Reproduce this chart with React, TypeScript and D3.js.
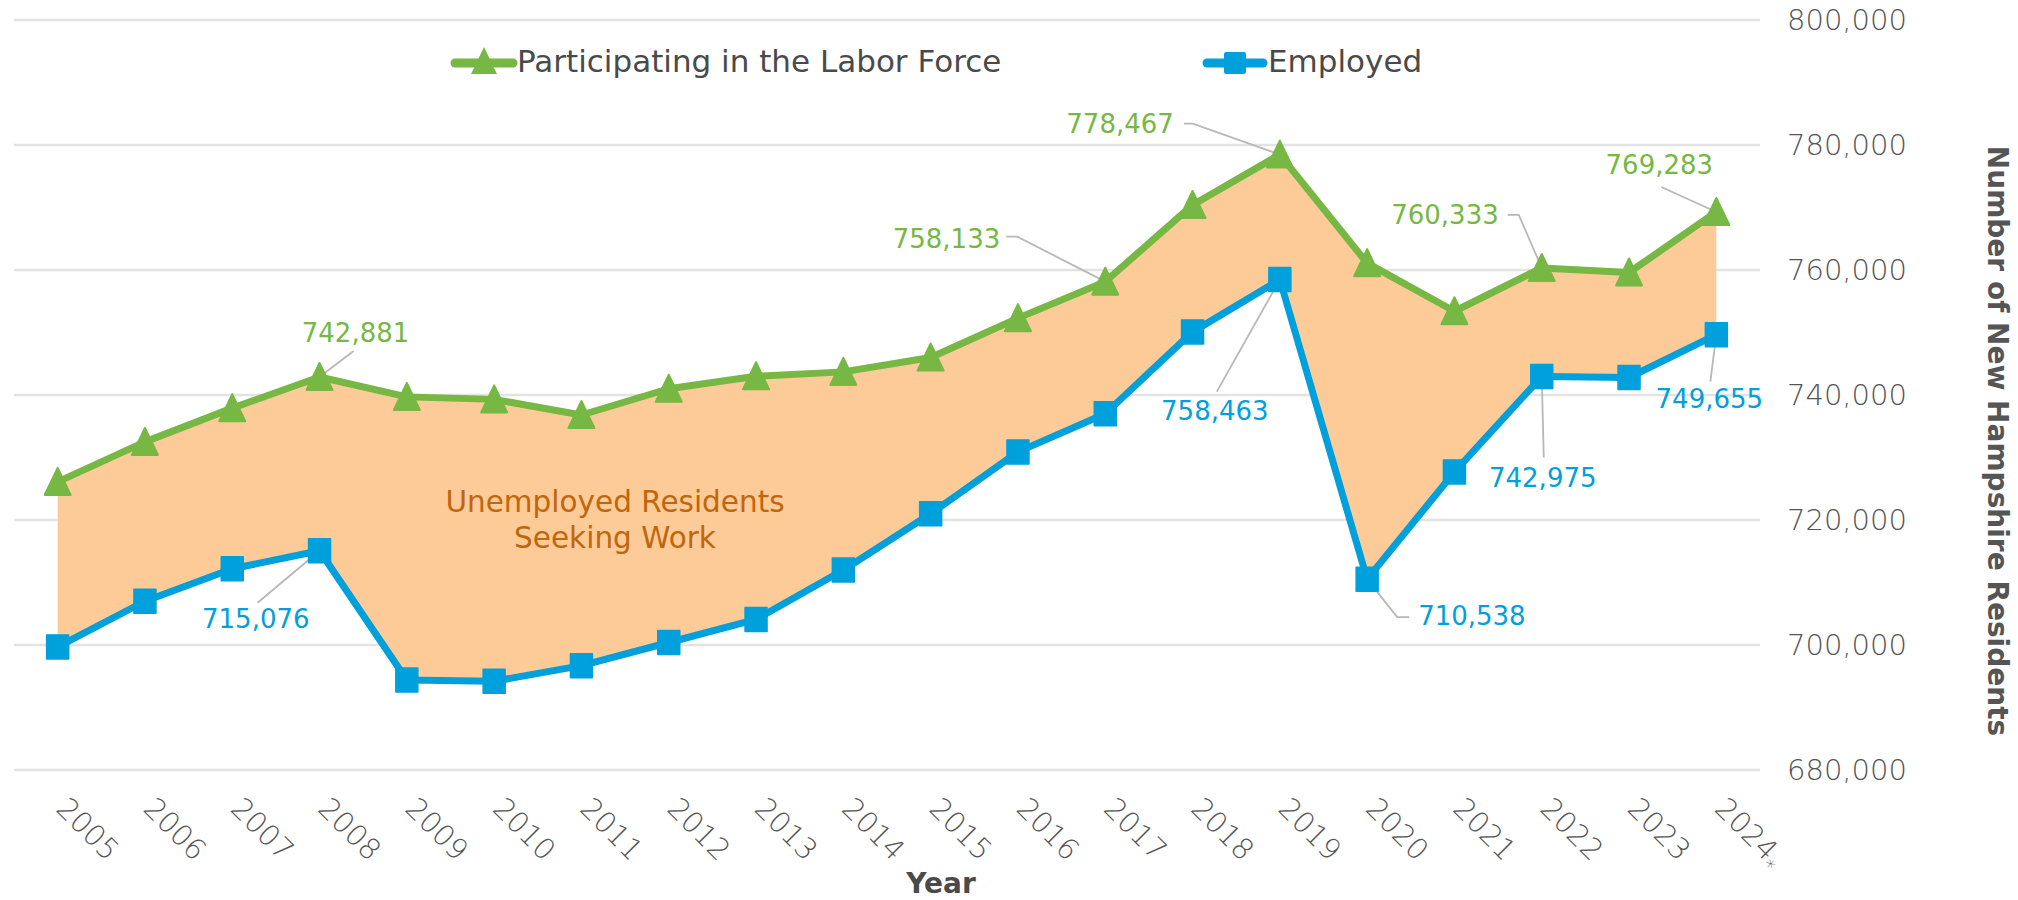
import React from "react";
import * as d3 from "d3";

const years = [
  "2005", "2006", "2007", "2008", "2009", "2010", "2011", "2012", "2013", "2014",
  "2015", "2016", "2017", "2018", "2019", "2020", "2021", "2022", "2023", "2024",
];
const tickLabels = [
  "2005", "2006", "2007", "2008", "2009", "2010", "2011", "2012", "2013", "2014",
  "2015", "2016", "2017", "2018", "2019", "2020", "2021", "2022", "2023", "2024*",
];
const laborForce = [
  726100, 732500, 737900, 742881, 739700, 739300, 736800, 741000, 743000, 743700,
  746000, 752300, 758133, 770400, 778467, 761100, 753400, 760333, 759600, 769283,
];
const employed = [
  699700, 707000, 712200, 715076, 694400, 694200, 696700, 700400, 704100, 712000,
  721000, 730900, 737000, 750100, 758463, 710538, 727700, 742975, 742800, 749655,
];
const yTicks = [680000, 700000, 720000, 740000, 760000, 780000, 800000];

const seriesNames = ["Participating in the Labor Force", "Employed"];
const gapLabel = ["Unemployed Residents", "Seeking Work"];

const width = 2018;
const height = 900;
const margin = { top: 20, left: 14, right: 258, bottom: 130 };
const iright = width - margin.right;
const ibottom = height - margin.bottom;

const green = "#76b843";
const blue = "#00a0dc";
const peach = "#fdcb97";
const gridColor = "#e3e3e3";
const textColor = "#4a4a4a";
const leaderColor = "#b8b8b8";
const font = "'DejaVu Sans', sans-serif";

// label placement relative to the data point (pixels)
const notes = [
  { s: "lf", year: "2008", dx: 36, dy: -35, anchor: "middle", leader: [[34, -26], [0, 0]] },
  { s: "em", year: "2008", dx: -10, dy: 77, anchor: "end", leader: [[-62, 52], [0, 0]] },
  { s: "lf", year: "2017", dx: -105, dy: -34, anchor: "end", leader: [[-99, -45], [-88, -45], [0, 0]] },
  { s: "lf", year: "2019", dx: -106, dy: -22, anchor: "end", leader: [[-96, -31], [-87, -31], [0, 0]] },
  { s: "lf", year: "2022", dx: -43, dy: -44, anchor: "end", leader: [[-34, -53], [-23, -53], [0, 0]] },
  { s: "lf", year: "2024", dx: -57, dy: -38, anchor: "middle", leader: [[-55, -25], [0, 0]] },
  { s: "em", year: "2019", dx: -65, dy: 140, anchor: "middle", leader: [[-63, 112], [0, 0]] },
  { s: "em", year: "2020", dx: 51, dy: 46, anchor: "start", leader: [[42, 38], [30, 38], [0, 0]] },
  { s: "em", year: "2022", dx: 1, dy: 111, anchor: "middle", leader: [[2, 81], [0, 0]] },
  { s: "em", year: "2024", dx: -7, dy: 73, anchor: "middle", leader: [[-6, 47], [0, 0]] },
];

const triangle = "M0,-14L13,13L-13,13Z";

function App() {
  const x = d3.scalePoint().domain(years).range([margin.left, iright]).padding(0.5);
  const y = d3.scaleLinear().domain([680000, 800000]).range([ibottom, margin.top]);
  const fmt = d3.format(",");

  const lfLine = d3.line<number>().x((d, i) => x(years[i])!).y((d) => y(d));
  const gap = d3
    .area<number>()
    .x((d, i) => x(years[i])!)
    .y0((d, i) => y(employed[i]))
    .y1((d) => y(d));

  const leader = d3.line();

  return (
    <svg
      width={width}
      height={height}
      style={{ position: "absolute", left: 0, top: 0, background: "#fff" }}
      fontFamily={font}
    >
      {yTicks.map((t) => (
        <g key={t}>
          <line x1={margin.left} x2={iright} y1={y(t)} y2={y(t)} stroke={gridColor} strokeWidth={2.5} />
          <text x={iright + 27} y={y(t) + 10} fontSize={29} fontWeight={300} fill="#555">
            {fmt(t)}
          </text>
        </g>
      ))}

      <path d={gap(laborForce)!} fill={peach} />
      <text textAnchor="middle" fontSize={29.5} fill="#c0660e">
        <tspan x={615} y={512}>{gapLabel[0]}</tspan>
        <tspan x={615} y={548}>{gapLabel[1]}</tspan>
      </text>

      {notes.map((n, i) => {
        const idx = years.indexOf(n.year);
        const v = n.s === "lf" ? laborForce[idx] : employed[idx];
        const px = x(n.year)!;
        const py = y(v);
        return (
          <g key={i}>
            <path
              d={leader(n.leader.map(([a, b]) => [px + a, py + b] as [number, number]))!}
              fill="none"
              stroke={leaderColor}
              strokeWidth={1.8}
            />
            <text
              x={px + n.dx}
              y={py + n.dy}
              textAnchor={n.anchor}
              fontSize={26}
              fill={n.s === "lf" ? green : blue}
            >
              {fmt(v)}
            </text>
          </g>
        );
      })}

      <path d={lfLine(laborForce)!} fill="none" stroke={green} strokeWidth={7} strokeLinejoin="round" />
      <path d={lfLine(employed)!} fill="none" stroke={blue} strokeWidth={7} strokeLinejoin="round" />

      {laborForce.map((d, i) => (
        <path
          key={"t" + i}
          d={triangle}
          transform={`translate(${x(years[i])},${y(d)})`}
          fill={green}
          stroke={green}
          strokeWidth={2}
          strokeLinejoin="round"
        />
      ))}
      {employed.map((d, i) => (
        <rect
          key={"s" + i}
          x={x(years[i])! - 11}
          y={y(d) - 12}
          width={22}
          height={24}
          fill={blue}
          stroke={blue}
          strokeWidth={1.5}
          strokeLinejoin="round"
        />
      ))}

      {tickLabels.map((t, i) => {
        const tx = x(years[i])! - 3;
        const ty = ibottom + 40;
        const main = t.replace("*", "");
        return (
          <text
            key={t}
            transform={`translate(${tx},${ty}) rotate(45)`}
            fontSize={29}
            fontWeight={300}
            fill="#555"
          >
            {main}
            {t.endsWith("*") && (
              <tspan fontSize={19} dy={7}>
                *
              </tspan>
            )}
          </text>
        );
      })}

      <text x={941} y={893} textAnchor="middle" fontSize={28} fontWeight={600} fill={textColor}>
        Year
      </text>
      <text
        transform="translate(1988,441) rotate(90)"
        textAnchor="middle"
        fontSize={28}
        fontWeight={600}
        fill="#555"
      >
        Number of New Hampshire Residents
      </text>

      <g>
        <line x1={455} x2={513} y1={63} y2={63} stroke={green} strokeWidth={9} strokeLinecap="round" />
        <path d={triangle} transform="translate(484,61)" fill={green} />
        <text x={517} y={72} fontSize={31} fill={textColor}>
          {seriesNames[0]}
        </text>
        <line x1={1207} x2={1263} y1={63} y2={63} stroke={blue} strokeWidth={9} strokeLinecap="round" />
        <rect x={1224} y={52} width={22} height={22} rx={2} fill={blue} />
        <text x={1268} y={72} fontSize={31} fill={textColor}>
          {seriesNames[1]}
        </text>
      </g>
    </svg>
  );
}

export default App;
